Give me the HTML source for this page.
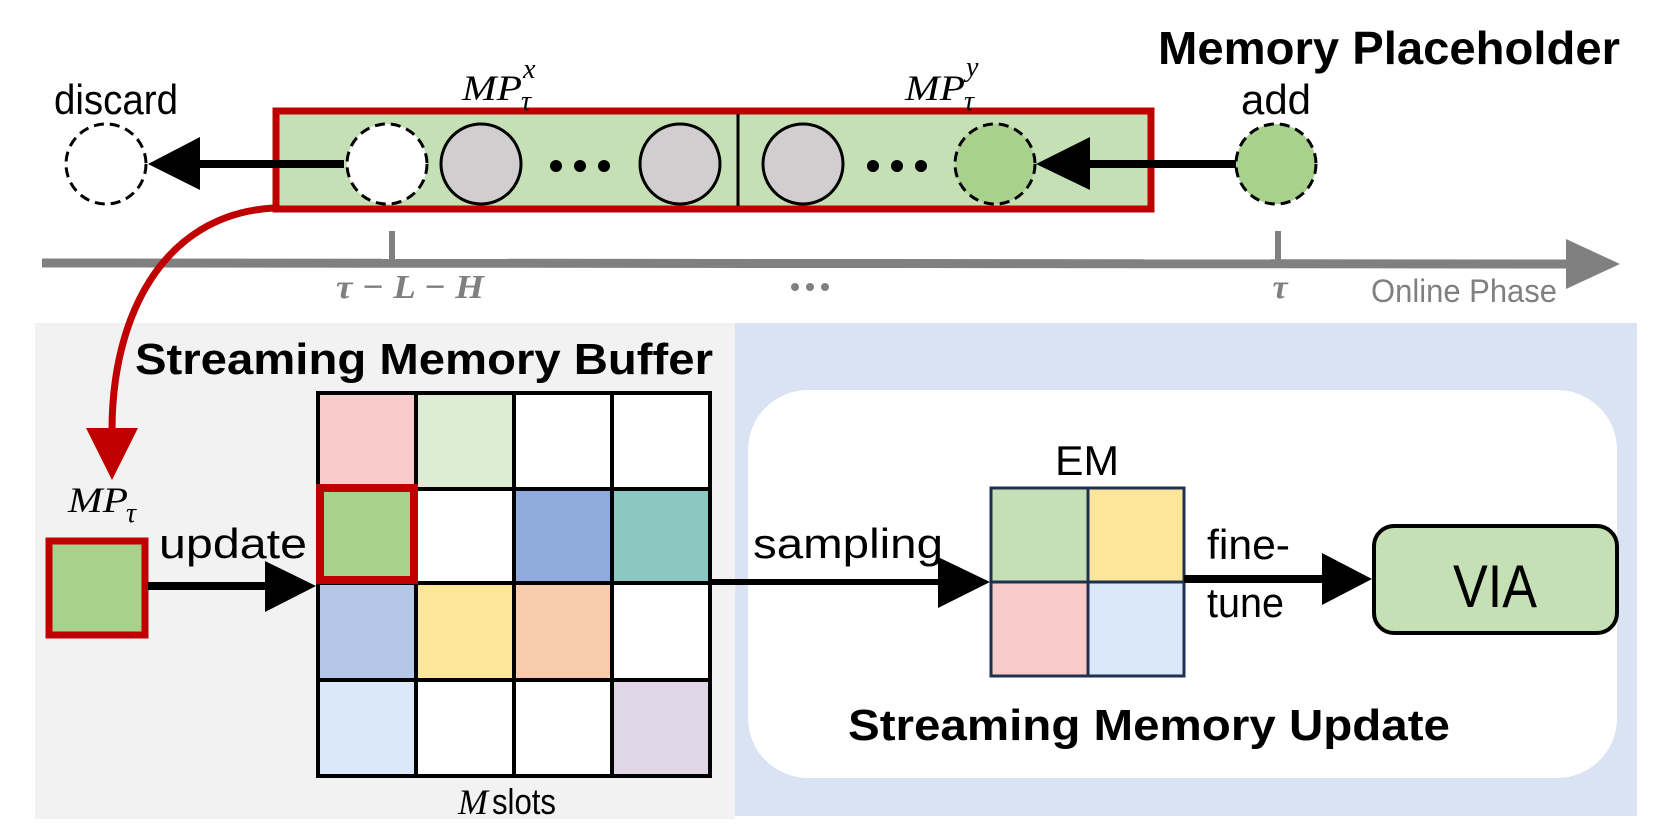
<!DOCTYPE html>
<html><head><meta charset="utf-8"><style>
html,body{margin:0;padding:0;background:#fff;}
svg{display:block;}
text{font-family:"Liberation Sans",sans-serif;}
.it{font-family:"Liberation Serif",serif;font-style:italic;}
</style></head><body>
<svg width="1661" height="830" viewBox="0 0 1661 830" xmlns="http://www.w3.org/2000/svg">
<rect x="35" y="323" width="700" height="496" fill="#f2f2f2"/>
<rect x="735" y="323" width="902" height="493" fill="#dae3f3"/>
<rect x="748" y="390" width="869" height="388" rx="60" fill="#fff"/>

<text x="1620" y="64" font-size="46" font-weight="bold" text-anchor="end" textLength="462" lengthAdjust="spacingAndGlyphs">Memory Placeholder</text>

<rect x="276" y="111" width="875" height="98" fill="#c5e0b4" stroke="#c00000" stroke-width="7"/>
<line x1="738" y1="114" x2="738" y2="206" stroke="#000" stroke-width="3"/>

<g stroke="#000" stroke-width="3">
<ellipse cx="106" cy="164" rx="40" ry="40" fill="#fff" stroke-dasharray="10,6"/>
<ellipse cx="387" cy="164" rx="40" ry="40" fill="#fff" stroke-dasharray="10,6"/>
<ellipse cx="481" cy="164" rx="40" ry="40" fill="#d0cece"/>
<ellipse cx="680" cy="164" rx="40" ry="40" fill="#d0cece"/>
<ellipse cx="803" cy="164" rx="40" ry="40" fill="#d0cece"/>
<ellipse cx="995" cy="164" rx="40" ry="40" fill="#a9d18e" stroke-dasharray="10,6"/>
<ellipse cx="1276" cy="164" rx="40" ry="40" fill="#a9d18e" stroke-dasharray="10,6"/>
</g>
<g fill="#000">
<circle cx="556" cy="166" r="6"/><circle cx="580" cy="166" r="6"/><circle cx="604" cy="166" r="6"/>
<circle cx="873" cy="166" r="6"/><circle cx="897" cy="166" r="6"/><circle cx="921" cy="166" r="6"/>
</g>
<line x1="344" y1="164" x2="190" y2="164" stroke="#000" stroke-width="8"/>
<polygon points="148,164 200,137 200,190" fill="#000"/>
<line x1="1236" y1="164" x2="1070" y2="164" stroke="#000" stroke-width="8"/>
<polygon points="1036,164 1090,137 1090,190" fill="#000"/>

<text x="116" y="114" font-size="42" text-anchor="middle" textLength="124" lengthAdjust="spacingAndGlyphs">discard</text>
<text x="1276" y="114" font-size="42" text-anchor="middle" textLength="70" lengthAdjust="spacingAndGlyphs">add</text>
<text x="462" y="100" font-size="36" class="it" textLength="60" lengthAdjust="spacingAndGlyphs">MP</text><text x="521" y="110" font-size="28" class="it">τ</text><text x="523" y="78" font-size="28" class="it">x</text>
<text x="905" y="100" font-size="36" class="it" textLength="60" lengthAdjust="spacingAndGlyphs">MP</text><text x="964" y="110" font-size="28" class="it">τ</text><text x="966" y="76" font-size="28" class="it">y</text>

<line x1="42" y1="263" x2="1575" y2="264" stroke="#808080" stroke-width="9"/>
<polygon points="1620,264 1566,239 1566,289" fill="#808080"/>
<line x1="392" y1="231" x2="392" y2="263" stroke="#808080" stroke-width="6"/>
<line x1="1278" y1="231" x2="1278" y2="263" stroke="#808080" stroke-width="6"/>
<text x="410" y="298" font-size="34" font-weight="bold" fill="#808080" text-anchor="middle" class="it" textLength="148" lengthAdjust="spacingAndGlyphs">τ − L − H</text>
<g fill="#808080"><circle cx="795" cy="287" r="4"/><circle cx="810" cy="287" r="4"/><circle cx="825" cy="287" r="4"/></g>
<text x="1280" y="298" font-size="34" font-weight="bold" fill="#808080" text-anchor="middle" class="it">τ</text>
<text x="1371" y="302" font-size="32" fill="#808080" textLength="186" lengthAdjust="spacingAndGlyphs">Online Phase</text>

<path d="M273,208 C160,215 112,320 112,430" fill="none" stroke="#c00000" stroke-width="7"/>
<polygon points="86,428 138,428 112,480" fill="#c00000"/>

<text x="424" y="374" font-size="44" font-weight="bold" text-anchor="middle" textLength="578" lengthAdjust="spacingAndGlyphs">Streaming Memory Buffer</text>

<g stroke="#000" stroke-width="4">
<rect x="318" y="393" width="98" height="96" fill="#f8cbcb"/>
<rect x="416" y="393" width="98" height="96" fill="#dbebd4"/>
<rect x="514" y="393" width="98" height="96" fill="#fff"/>
<rect x="612" y="393" width="98" height="96" fill="#fff"/>
<rect x="318" y="489" width="98" height="94" fill="#a9d18e"/>
<rect x="416" y="489" width="98" height="94" fill="#fff"/>
<rect x="514" y="489" width="98" height="94" fill="#8faadc"/>
<rect x="612" y="489" width="98" height="94" fill="#8cc8c2"/>
<rect x="318" y="583" width="98" height="97" fill="#b4c7e7"/>
<rect x="416" y="583" width="98" height="97" fill="#fde699"/>
<rect x="514" y="583" width="98" height="97" fill="#f8cbad"/>
<rect x="612" y="583" width="98" height="97" fill="#fff"/>
<rect x="318" y="680" width="98" height="96" fill="#dae8fa"/>
<rect x="416" y="680" width="98" height="96" fill="#fff"/>
<rect x="514" y="680" width="98" height="96" fill="#fff"/>
<rect x="612" y="680" width="98" height="96" fill="#e0d6e8"/>
</g>
<rect x="320" y="488" width="94" height="92" fill="none" stroke="#c00000" stroke-width="8"/>
<text x="458" y="814" font-size="36" class="it">M</text><text x="492" y="814" font-size="36" textLength="64" lengthAdjust="spacingAndGlyphs">slots</text>

<rect x="49" y="541" width="96" height="94" fill="#a9d18e" stroke="#c00000" stroke-width="7"/>
<text x="68" y="512" font-size="36" class="it" textLength="60" lengthAdjust="spacingAndGlyphs">MP</text><text x="126" y="522" font-size="28" class="it">τ</text>
<text x="159" y="558" font-size="42" textLength="148" lengthAdjust="spacingAndGlyphs">update</text>
<line x1="148" y1="586" x2="275" y2="586" stroke="#000" stroke-width="8"/>
<polygon points="316,586 265,561 265,612" fill="#000"/>

<line x1="710" y1="582" x2="945" y2="582" stroke="#000" stroke-width="6"/>
<polygon points="990,582 938,557 938,608" fill="#000"/>
<text x="753" y="558" font-size="42" textLength="190" lengthAdjust="spacingAndGlyphs">sampling</text>

<g stroke="#1f3050" stroke-width="3">
<rect x="991" y="488" width="97" height="94" fill="#c5e0b4"/>
<rect x="1088" y="488" width="96" height="94" fill="#fde699"/>
<rect x="991" y="582" width="97" height="94" fill="#f8cbcb"/>
<rect x="1088" y="582" width="96" height="94" fill="#dae8fa"/>
</g>
<text x="1087" y="475" font-size="42" text-anchor="middle" textLength="64" lengthAdjust="spacingAndGlyphs">EM</text>

<line x1="1184" y1="579" x2="1330" y2="579" stroke="#000" stroke-width="8"/>
<polygon points="1372,579 1322,553 1322,605" fill="#000"/>
<text x="1207" y="559" font-size="42" textLength="83" lengthAdjust="spacingAndGlyphs">fine-</text>
<text x="1207" y="617" font-size="42" textLength="77" lengthAdjust="spacingAndGlyphs">tune</text>

<rect x="1374" y="526" width="243" height="107" rx="20" fill="#c5e0b4" stroke="#000" stroke-width="4"/>
<text x="1495" y="607" font-size="60" text-anchor="middle" textLength="84" lengthAdjust="spacingAndGlyphs">VIA</text>

<text x="1149" y="740" font-size="44" font-weight="bold" text-anchor="middle" textLength="602" lengthAdjust="spacingAndGlyphs">Streaming Memory Update</text>
</svg>
</body></html>
